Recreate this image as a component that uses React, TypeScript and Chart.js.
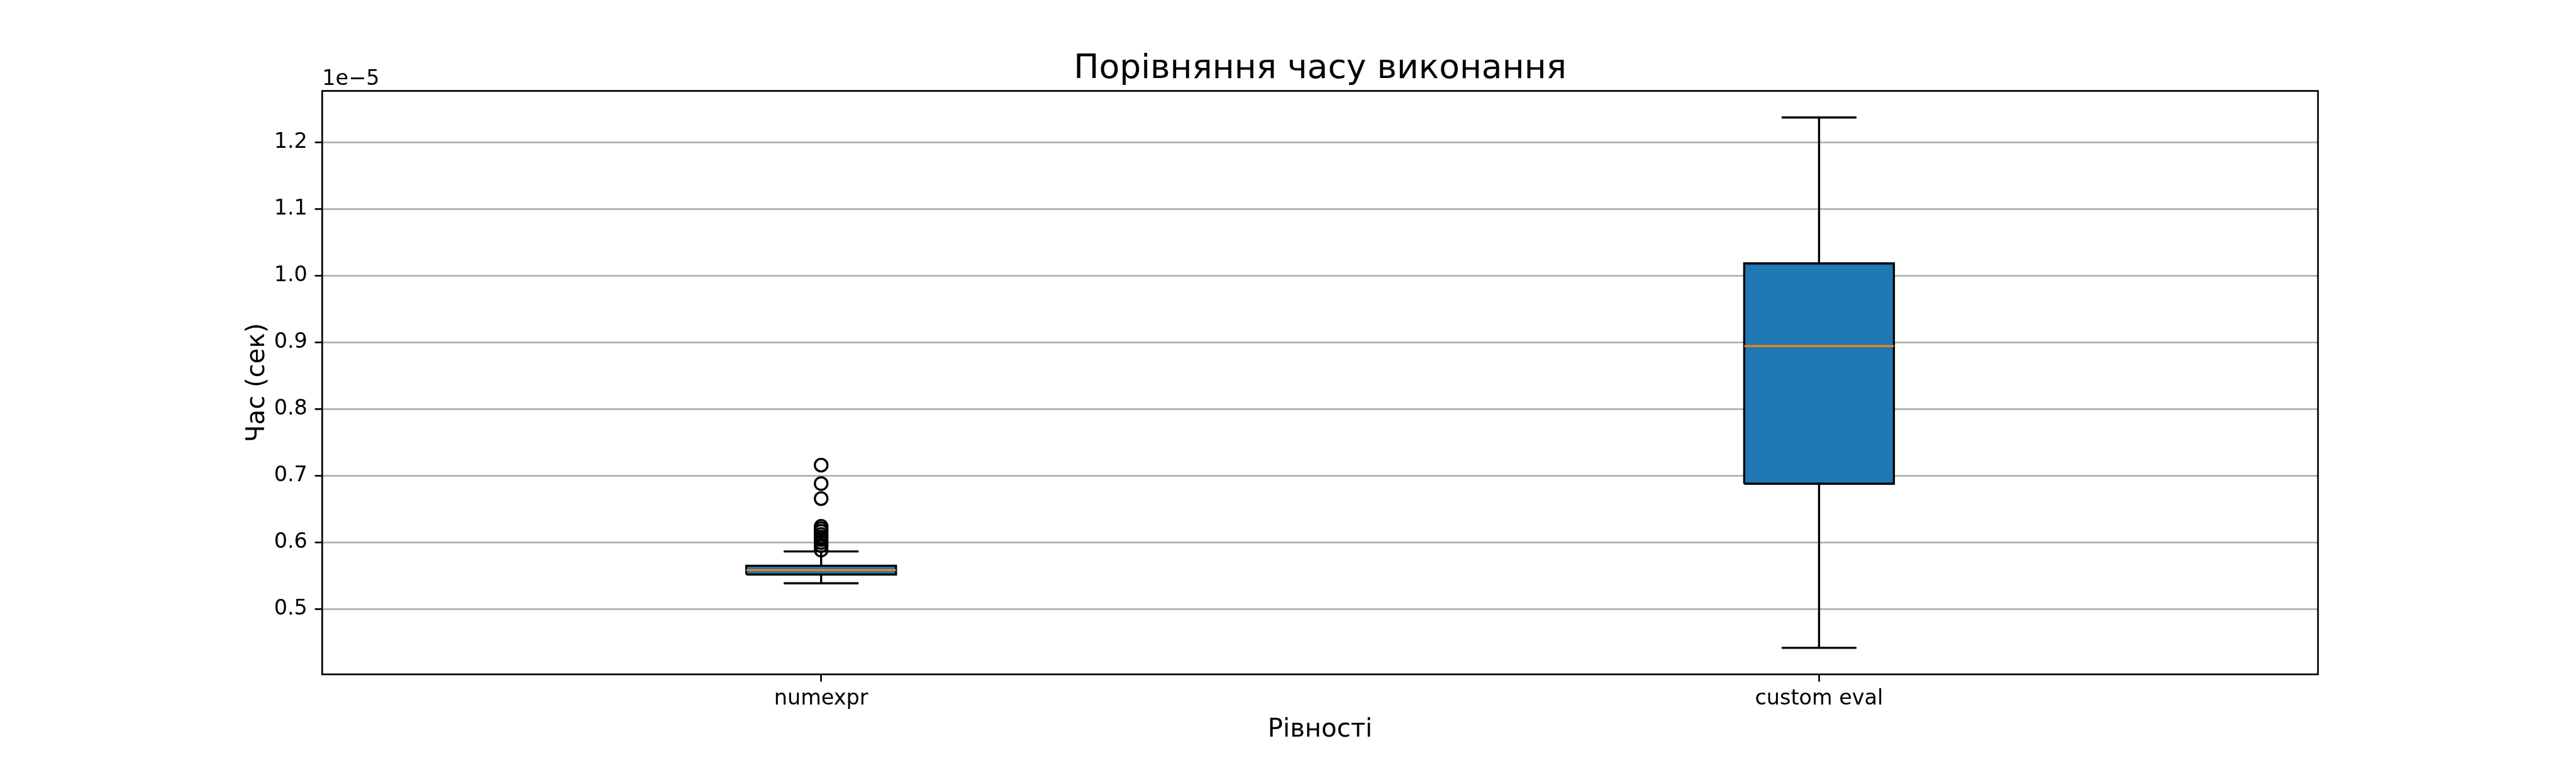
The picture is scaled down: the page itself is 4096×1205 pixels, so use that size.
import React, { useEffect, useRef } from "react";
import { Chart, registerables } from "chart.js";

Chart.register(...registerables);

// ---- data (values in units of 1e-5 s) ----
const categories = ["numexpr", "custom eval"];
const positions = [1, 2];
const whiskerLow = [0.5389, 0.442];
const q1 = [0.552, 0.6882];
const median = [0.5586, 0.8947];
const q3 = [0.5652, 1.0186];
const whiskerHigh = [0.5866, 1.2375];
const outliersNumexpr = [0.7161, 0.6884, 0.6659, 0.6242, 0.6205, 0.6167, 0.6121, 0.6083, 0.6045, 0.6, 0.5955, 0.5886];
const outliersCustomEval: number[] = [];
const outliers = [outliersNumexpr, outliersCustomEval];
const yTicks = [0.5, 0.6, 0.7, 0.8, 0.9, 1.0, 1.1, 1.2];
const yMin = 0.4023;
const yMax = 1.2773;
const xMin = 0.5;
const xMax = 2.5;
const titleText = "Порівняння часу виконання";
const xLabel = "Рівності";
const yLabel = "Час (сек)";
const offsetText = "1e\u22125";

// ---- styling ----
const S = 0.803;
const W = 4096;
const H = 1205;
const FONT = "'DejaVu Sans', sans-serif";
const boxHalf = 0.075;
const capHalf = 0.0375;
const lw = 4.17 * S;
const spineW = 3.33 * S;
const tickLen = 14.6 * S;
const tickFont = 41.67 * S;
const labelFont = 50 * S;
const titleFont = 66.67 * S;
const area = { left: 638 * S, right: 4590 * S, top: 180 * S, bottom: 1335 * S };

export default function App() {
  const ref = useRef<HTMLCanvasElement | null>(null);
  useEffect(() => {
    document.body.style.margin = "0";
    const canvas = ref.current!;
    const datasets: any[] = [];
    positions.forEach((p, i) => {
      datasets.push({
        data: [{ x: p - boxHalf, y: q3[i] }, { x: p + boxHalf, y: q3[i] }],
        fill: { value: q1[i] },
        backgroundColor: "#1f77b4",
        borderWidth: 0,
        borderColor: "rgba(0,0,0,0)",
        pointRadius: 0,
        order: 6,
      });
      datasets.push({
        data: [
          { x: p - boxHalf, y: q1[i] },
          { x: p + boxHalf, y: q1[i] },
          { x: p + boxHalf, y: q3[i] },
          { x: p - boxHalf, y: q3[i] },
          { x: p - boxHalf, y: q1[i] },
        ],
        borderColor: "#000000",
        borderWidth: lw,
        borderJoinStyle: "miter",
        pointRadius: 0,
        fill: false,
        order: 5,
      });
      const segs = [
        [{ x: p, y: q1[i] }, { x: p, y: whiskerLow[i] }],
        [{ x: p, y: q3[i] }, { x: p, y: whiskerHigh[i] }],
        [{ x: p - capHalf, y: whiskerLow[i] }, { x: p + capHalf, y: whiskerLow[i] }],
        [{ x: p - capHalf, y: whiskerHigh[i] }, { x: p + capHalf, y: whiskerHigh[i] }],
      ];
      segs.forEach((d) =>
        datasets.push({
          data: d,
          borderColor: "#000000",
          borderWidth: lw,
          pointRadius: 0,
          fill: false,
          order: 4,
        })
      );
      datasets.push({
        data: [{ x: p - boxHalf, y: median[i] }, { x: p + boxHalf, y: median[i] }],
        borderColor: "#ff7f0e",
        borderWidth: lw,
        pointRadius: 0,
        fill: false,
        order: 3,
      });
      datasets.push({
        data: outliers[i].map((v) => ({ x: p, y: v })),
        showLine: false,
        pointRadius: 12.5 * S,
        pointBorderWidth: lw,
        pointBorderColor: "#000000",
        pointBackgroundColor: "rgba(0,0,0,0)",
        borderColor: "#000000",
        fill: false,
        order: 2,
      });
    });

    const decor = {
      id: "decor",
      afterDatasetsDraw(chart: any) {
        const ctx = chart.ctx;
        const a = chart.chartArea;
        ctx.save();
        ctx.strokeStyle = "#000000";
        ctx.lineWidth = spineW;
        ctx.strokeRect(a.left, a.top, a.right - a.left, a.bottom - a.top);
        ctx.restore();
      },
      afterDraw(chart: any) {
        const ctx = chart.ctx;
        const a = chart.chartArea;
        ctx.save();
        ctx.fillStyle = "#000000";
        ctx.textBaseline = "alphabetic";
        ctx.textAlign = "center";
        ctx.font = `${titleFont}px ${FONT}`;
        ctx.fillText(titleText, (a.left + a.right) / 2, a.top - 25 * S);
        ctx.textAlign = "left";
        ctx.font = `${tickFont}px ${FONT}`;
        ctx.fillText(offsetText, a.left, a.top - 12 * S);
        ctx.restore();
      },
    };

    const chart = new Chart(canvas, {
      type: "line",
      data: { datasets },
      options: {
        responsive: false,
        animation: false,
        events: [],
        devicePixelRatio: 1,
        layout: {
          padding: { left: 0, right: W - area.right, top: area.top, bottom: 0 },
        },
        plugins: {
          legend: { display: false },
          tooltip: { enabled: false },
          title: { display: false },
        },
        scales: {
          x: {
            type: "linear",
            min: xMin,
            max: xMax,
            afterBuildTicks: (s: any) => {
              s.ticks = positions.map((v) => ({ value: v }));
            },
            afterFit: (s: any) => {
              s.height = H - area.bottom;
            },
            ticks: {
              autoSkip: false,
              maxRotation: 0,
              minRotation: 0,
              padding: 7,
              color: "#000000",
              font: { family: FONT, size: tickFont },
              callback: (v: any) => categories[positions.indexOf(Number(v))] ?? "",
            },
            grid: {
              drawOnChartArea: false,
              drawTicks: true,
              tickLength: tickLen,
              tickWidth: spineW,
              tickColor: "#000000",
            },
            border: { display: false },
            title: {
              display: true,
              text: xLabel,
              color: "#000000",
              font: { family: FONT, size: labelFont },
              padding: { top: 0, bottom: 20 },
            },
          },
          y: {
            type: "linear",
            min: yMin,
            max: yMax,
            afterBuildTicks: (s: any) => {
              s.ticks = yTicks.map((v) => ({ value: v }));
            },
            afterFit: (s: any) => {
              s.width = area.left;
            },
            ticks: {
              padding: tickLen,
              color: "#000000",
              font: { family: FONT, size: tickFont },
              callback: (v: any) => Number(v).toFixed(1),
            },
            grid: {
              drawOnChartArea: true,
              color: "#b0b0b0",
              lineWidth: spineW,
              drawTicks: true,
              tickLength: tickLen,
              tickWidth: spineW,
              tickColor: "#000000",
            },
            border: { display: false },
            title: {
              display: true,
              text: yLabel,
              color: "#000000",
              font: { family: FONT, size: labelFont },
              padding: { top: 385, bottom: 0 },
            },
          },
        },
      },
      plugins: [decor],
    } as any);
    return () => chart.destroy();
  }, []);
  return <canvas ref={ref} width={W} height={H} style={{ display: "block", width: W, height: H }} />;
}
